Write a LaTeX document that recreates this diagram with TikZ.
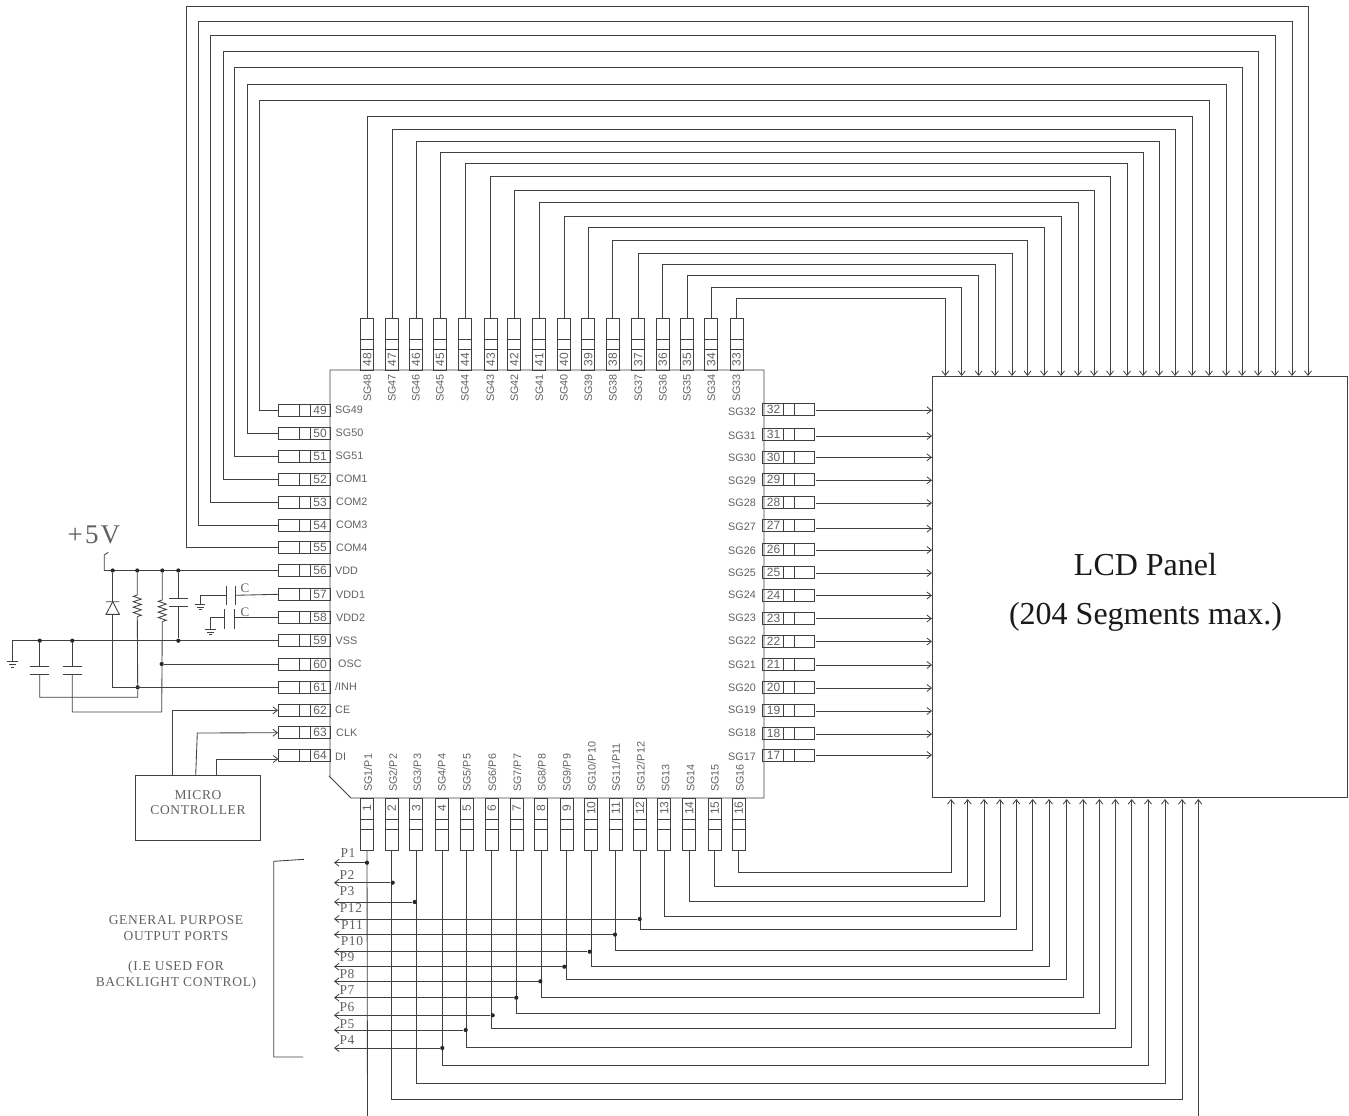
\documentclass[tikz,border=0pt]{standalone}
\usepackage{fontspec}
\setmainfont{Liberation Serif}
\setsansfont{Liberation Sans}
\newfontfamily\serls[LetterSpace=5]{Liberation Serif}
\newfontfamily\serlt[LetterSpace=8]{Liberation Serif}
\usetikzlibrary{arrows.meta,calc}
\definecolor{wire}{gray}{0.25}
\definecolor{ink}{gray}{0.38}
\tikzset{
  wr/.style={draw=wire,line width=0.85pt},
  arw/.style={wr,-{Straight Barb[length=4.5pt,width=7pt,line width=0.8pt]}},
  vpin/.style={wr,inner sep=0,minimum width=13pt,minimum height=52pt},
  hpin/.style={wr,inner sep=0,minimum width=51.5pt,minimum height=12pt},
  num/.style={font=\sffamily\fontsize{12}{12}\selectfont,text=ink,inner sep=0},
  lab/.style={font=\sffamily\fontsize{10.8}{11}\selectfont,text=ink,inner sep=0},
  prt/.style={font=\serls\fontsize{13.5}{14}\selectfont,text=ink,inner sep=0},
  capt/.style={font=\serls\fontsize{13.5}{15.3}\selectfont,text=ink,inner sep=0,align=center},
  dot/.style={circle,fill=black!85,inner sep=0,minimum size=4.2pt},
  gnd/.pic={\draw[wr] (-5.3,0)--(5.3,0) (-3.5,2.7)--(3.5,2.7) (-1.5,5.5)--(1.5,5.5);},
  res/.pic={\draw[wr] (0,0)--(-4,1.35)--(4,4.05)--(-4,6.75)--(4,9.45)--(-4,12.15)--(4,14.85)--(-4,17.55)--(4,20.25)--(0,21.6);},
  hcap/.pic={\draw[wr] (-9.7,0)--(9.7,0) (-9.7,8.3)--(9.7,8.3);},
  dio/.pic={\draw[wr] (-6.7,0)--(6.7,0) (0,0)--(-6.7,12.7)--(6.7,12.7)--cycle;}
}
\begin{document}
\begin{tikzpicture}[x=1pt,y=-1pt]
\useasboundingbox (0,0) rectangle (1349,1116);
% chip and panel
\draw[wr] (330,777) -- (330,370) -- (764,370) -- (764,798) -- (351,798) -- (329,776);
\node[wr,inner sep=0,minimum width=415pt,minimum height=421.5pt] (lcd) at (1139.5,587) {};
\node[inner sep=0,align=center,text=black!90,font=\fontsize{32}{49}\selectfont] (lcdtext) at (1145.5,592.5) {LCD Panel\\(204 Segments max.)};

% top pins
\foreach \n/\x/\lx/\y/\tx in {
 33/736.5/736.5/298.7/945.3, 34/711.3/711.5/287/961.7, 35/687/687/275.7/978.7, 36/662.7/663/264.3/995,
 37/638.3/638.5/253/1012, 38/612.7/613/240/1027.5, 39/588.3/588.5/227.3/1044, 40/564/564/216/1061,
 41/539.3/539.5/202.7/1078, 42/514.3/514.5/190/1094, 43/490.7/490.5/176.7/1110, 44/465/465/163.7/1127,
 45/440/440/152.7/1143, 46/416/416/141/1159, 47/392/392/129/1175, 48/367.3/367.5/116.7/1192}{
  \node[vpin] (p\n) at (\x,344) {};
  \draw[wr] (\x-6.5,339) rectangle (\x+6.5,349);
  \node[num,rotate=90] (n\n) at (\x,359.5) {\n};
  \node[lab,rotate=90,anchor=west] (l\n) at (\lx,402) {SG\n};
  \coordinate (t\n) at (\tx,376);
  \coordinate (c\n) at (\tx,\y);
  \draw[arw] (p\n.north) |- (c\n) -- (t\n);
}

% left pins
\foreach \n/\y in {49/410,50/433,51/456,52/479,53/502.5,54/525,55/547.5,56/570.5,57/594.3,58/617.3,59/640.7,60/664,61/687.3,62/710.3,63/732.7,64/755}{
  \node[hpin] (p\n) at (304.2,\y) {};
  \draw[wr] (299.7,\y-6) rectangle (310,\y+6);
  \node[num] (n\n) at (320,\y) {\n};
}
\foreach \n/\t/\lx/\y in {49/SG49/335/409.5,50/SG50/335.5/433,51/SG51/335.5/456,52/COM1/336/479,53/COM2/336/502,54/COM3/336/525,55/COM4/336/548,56/VDD/335/571,57/VDD1/336/594.5,58/VDD2/336/618,59/VSS/335.5/641,60/OSC/338/664,61/{/INH}/335/687,62/CE/335/710,63/CLK/336/733,64/DI/335/757}{
  \node[lab,anchor=west] (l\n) at (\lx,\y) {\t};
}
% outer wires to the panel
\foreach \n/\bx/\y/\tx in {49/259/100/1209,50/247/84/1226,51/234.3/67.7/1242,52/223/51.7/1258,53/210.3/35.7/1275,54/198.7/21/1292,55/186/6.3/1308}{
  \coordinate (b\n) at (\bx,\y);
  \coordinate (c\n) at (\tx,\y);
  \coordinate (t\n) at (\tx,376);
  \draw[arw] (p\n.west) -| (b\n) -- (c\n) -- (t\n);
}

% right pins
\foreach \n/\y/\ly/\wy in {32/409.7/412/410.3,31/434.2/436/436,30/457/457.5/457.3,29/479.7/480.5/480.3,28/502/503/503,27/525.5/527/528.7,26/549/551/550,25/572/572.5/573,24/595/595/595.5,23/618/618/618.5,22/641/641/641.5,21/664/665/665,20/687/688/688,19/710/710/711,18/733/733/734,17/755/757/755}{
  \node[hpin] (p\n) at (788.5,\y) {};
  \draw[wr] (783.3,\y-6) rectangle (794.3,\y+6);
  \node[num] (n\n) at (773.5,\y) {\n};
  \node[lab,anchor=east] (l\n) at (756,\ly) {SG\n};
  \coordinate (r\n) at (932,\wy);
  \draw[arw,shorten <=1pt] (p\n.east |- r\n) -- (r\n);
}

% bottom pins
\foreach \n/\x/\lx/\t in {1/367/368/{SG1/P1},2/391.7/393/{SG2/P2},3/416.3/417.3/{SG3/P3},4/442/441.7/{SG4/P4},5/466.7/466.7/{SG5/P5},6/491.7/492.3/{SG6/P6},7/516.7/517.3/{SG7/P7},8/541/541.7/{SG8/P8},9/566.7/566.7/{SG9/P9},10/591.3/591.7/{SG10/P10},11/615.7/616/{SG11/P11},12/640/640.7/{SG12/P12},13/664.3/665.7/SG13,14/689.3/690.7/SG14,15/714.7/715/SG15,16/738.7/740/SG16}{
  \node[vpin] (p\n) at (\x,824) {};
  \draw[wr] (\x-6.5,819.3) rectangle (\x+6.5,829);
  \node[num,rotate=90] (n\n) at (\x,808) {\n};
  \node[lab,rotate=90,anchor=west] (l\n) at (\lx,792) {\t};
}
\foreach \n/\y/\tx in {16/872.3/951,15/886.7/967.7,14/901.7/984,13/916/1000,12/929/1016.3,11/950/1032.7,10/966.7/1049,9/979.7/1066.7,8/997.3/1083,7/1013.7/1099.3,6/1028.3/1115.3,5/1047.7/1131.7,4/1065.7/1148,3/1083.3/1165,2/1099.7/1182}{
  \coordinate (t\n) at (\tx,799);
  \coordinate (c\n) at (\tx,\y);
  \draw[arw] (p\n.south) |- (c\n) -- (t\n);
}
\coordinate (e1) at (367.5,1116);
\coordinate (e1b) at (1198.3,1116);
\coordinate (t1) at (1198.3,799);
\draw[wr] (p1.south) -- (e1);
\draw[arw] (e1b) -- (t1);

% output ports
\foreach \k/\t/\lx/\ly/\px/\py in {a/P1/348/853/367/862.7,b/P2/347/875/392.7/882.7,c/P3/347/891/414.7/902,d/P12/351/908/639.7/919,e/P11/352/925/615/934.6,f/P10/352/941/589.7/951.7,g/P9/347/957/564.3/966.7,h/P8/347/974/540.3/981.3,i/P7/347/990/516.3/997.7,j/P6/347/1007/492.7/1015.3,k/P5/347/1024/465.7/1030,l/P4/347/1040/442.3/1048}{
  \node[dot] (d\k) at (\px,\py) {};
  \coordinate (o\k) at (334,\py);
  \draw[arw] (d\k) -- (o\k);
  \node[prt] (t\k) at (\lx,\ly) {\t};
}
\node[capt] (gp) at (176,952.5) {GENERAL PURPOSE\\OUTPUT PORTS\\[15.3pt](I.E USED FOR\\BACKLIGHT CONTROL)};
\coordinate (br1) at (304,859.3);
\coordinate (br2) at (273.7,861.3);
\coordinate (br3) at (273.7,1057);
\coordinate (br4) at (303,1057);
\draw[wr] (br1) -- (br2) -- (br3) -- (br4);

% micro controller
\node[wr,inner sep=0,minimum width=125.4pt,minimum height=64.7pt] (mc) at (198,807.6) {};
\node[capt] (mctext) at (198,802.5) {MICRO\\CONTROLLER};
\coordinate (m1) at (172.7,775.3);
\coordinate (m2) at (195.7,775.3);
\coordinate (m2b) at (197.3,733);
\coordinate (m3) at (216.7,775.3);
\coordinate (m3e) at (278.4,759);
\draw[arw] (m1) |- (p62.west);
\draw[arw] (m2) -- (m2b) -- (p63.west);
\draw[arw] (m3) |- (m3e);

% supply
\node[inner sep=0,text=ink,font=\serlt\fontsize{27}{27}\selectfont] (vcc) at (94,535) {+5V};
\coordinate (v0) at (108.3,552.3);
\coordinate (v1) at (104.3,555);
\coordinate (v2) at (104.3,570.5);
\draw[wr] (v0) -- (v1) -- (v2) -- (p56.west);
\node[dot] (j1) at (112.7,570.5) {};
\node[dot] (j2) at (137.3,570.5) {};
\node[dot] (j3) at (162.3,570.5) {};
\node[dot] (j4) at (178.3,570.5) {};
\draw[wr] (p59.west) -- (12.3,640.7) coordinate (gl) -- (12.3,661.7) coordinate (g0);
\pic at (g0) {gnd};
\node[dot] (j5) at (178.3,640.7) {};
\node[dot] (j6) at (39.7,640.7) {};
\node[dot] (j7) at (72.3,640.7) {};
% diode
\coordinate (dt) at (112.7,601.7);
\pic at (dt) {dio};
\node[dot] (j8) at (137.7,687.3) {};
\draw[wr] (j1) -- (dt) (112.7,614.4) |- (p61.west);
% resistors
\coordinate (r1t) at (137.3,595);
\pic at (r1t) {res};
\draw[wr] (j2) -- (r1t) (137.3,616.6) -- (j8) -- (137.7,697.3) -| (39.7,674.3);
\coordinate (r2t) at (162.3,600);
\pic at (r2t) {res};
\node[dot] (j9) at (161.7,664) {};
\draw[wr] (j3) -- (r2t) (162.3,621.6) -- (161.7,712) -| (72.3,674.3);
\draw[wr] (j9) -- (p60.west);
% capacitors
\coordinate (c1t) at (178.3,598.3);
\pic at (c1t) {hcap};
\draw[wr] (j4) -- (c1t) (178.3,606.6) -- (j5);
\coordinate (c2t) at (39.7,666);
\pic at (c2t) {hcap};
\draw[wr] (j6) -- (c2t);
\coordinate (c3t) at (72.3,666);
\pic at (c3t) {hcap};
\draw[wr] (j7) -- (c3t);
% VDD1, VDD2 capacitors
\draw[wr] (p57.west) -- (235,595.3) coordinate (k1);
\draw[wr] (235,586) -- (235,605) (226.3,586) -- (226.3,605);
\draw[wr] (226.3,595.3) -- (200,595.3) -- (200,604.3) coordinate (g1);
\pic at (g1) {gnd};
\draw[wr] (p58.west) -- (234,617.3) coordinate (k2);
\draw[wr] (234,609) -- (234,629) (224.7,609) -- (224.7,629);
\draw[wr] (224.7,617.3) -- (210.7,617.3) -- (210.7,629.3) coordinate (g2);
\pic at (g2) {gnd};
\node[inner sep=0,text=ink,font=\fontsize{13}{13}\selectfont] (c1) at (245,588.5) {C};
\node[inner sep=0,text=ink,font=\fontsize{13}{13}\selectfont] (c2) at (245,612) {C};
\end{tikzpicture}
\end{document}
